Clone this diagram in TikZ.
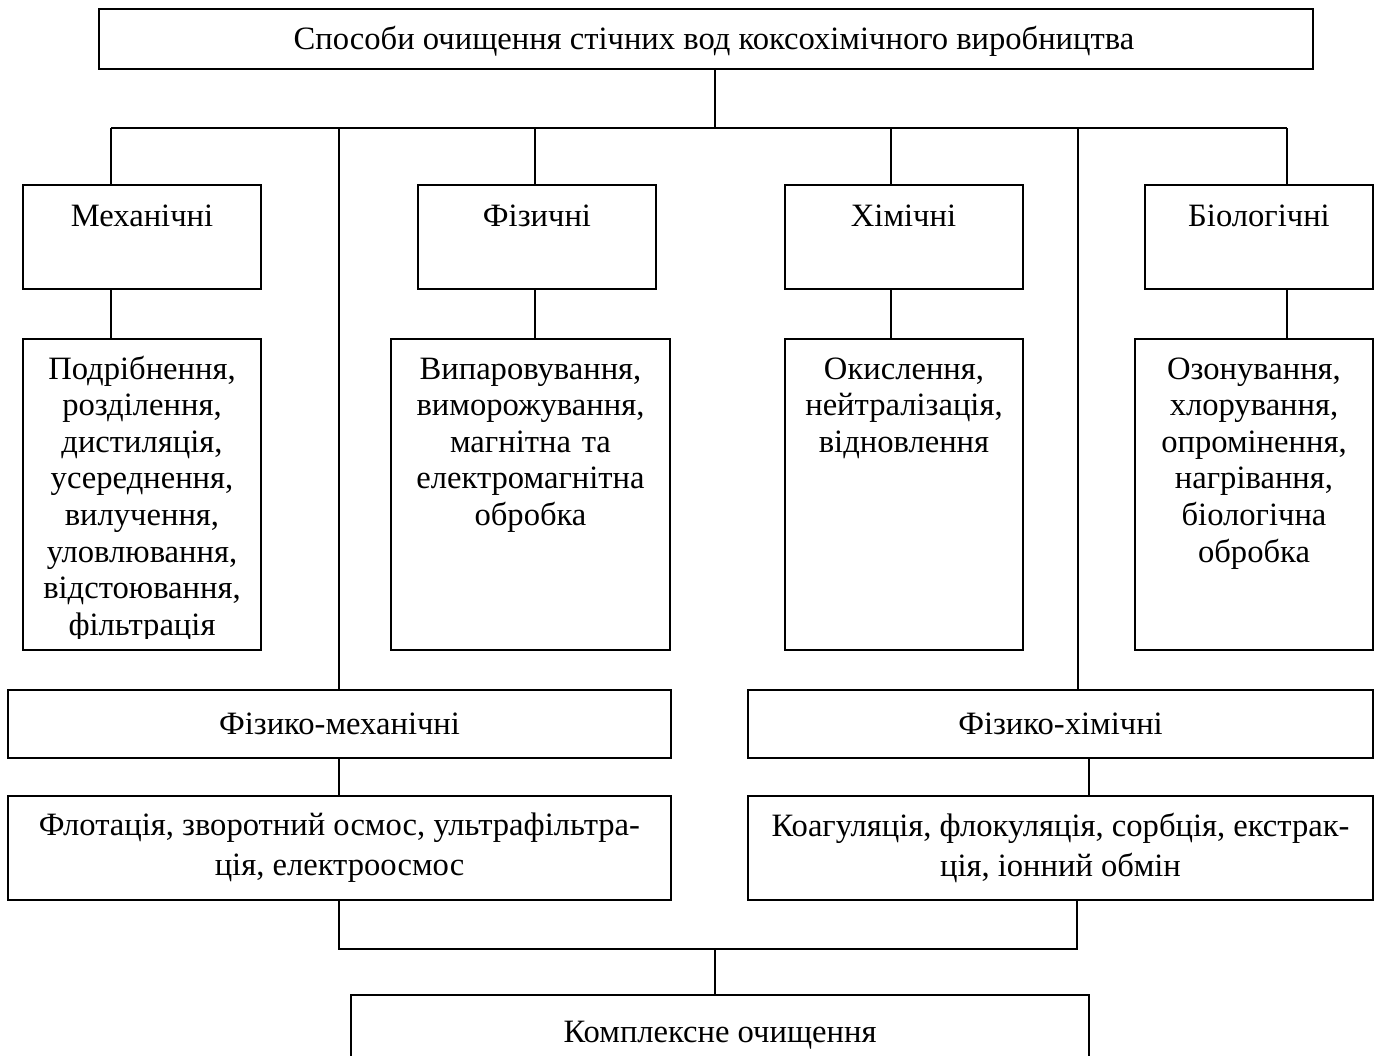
\documentclass[tikz,border=0pt]{standalone}
\usepackage{fontspec}
\setmainfont{Liberation Serif}
\usepackage{tikz}
\usetikzlibrary{positioning,calc}

\begin{document}
\begin{tikzpicture}[x=0.5pt,y=-0.5pt,line width=1pt,
box/.style={draw,line width=1pt,inner sep=0pt},
lbl/.style={inner sep=0pt,font=\fontsize{16.3}{18.3}\selectfont},
list/.style={lbl,align=center,text width=#1,anchor=base},
pair/.style={box,align=center,font=\fontsize{16.3}{20}\selectfont,minimum width=#1,minimum height=52pt}]
\useasboundingbox (0,0) rectangle (1378,1056);
% top
\node[box,minimum width=607pt,minimum height=30pt] (top) at (706,39) {};
\node[lbl,anchor=base] (topT) at (714,49)
  {Способи очищення стічних вод коксохімічного виробництва};
% groups
\node[box,minimum width=119pt,minimum height=52pt] (mech) at (142,237) {};
\node[box,minimum width=119pt,minimum height=52pt] (phys) at (537,237) {};
\node[box,minimum width=119pt,minimum height=52pt] (chem) at (903.5,237) {};
\node[box,minimum width=114pt,minimum height=52pt] (bio) at (1259,237) {};
\node[lbl,anchor=base] (mechT) at ([yshift=-21pt]mech.north) {Механічні};
\node[lbl,anchor=base] (physT) at ([yshift=-21pt]phys.north) {Фізичні};
\node[lbl,anchor=base] (chemT) at ([yshift=-21pt]chem.north) {Хімічні};
\node[lbl,anchor=base] (bioT) at ([yshift=-21pt]bio.north) {Біологічні};
% methods
\node[box,minimum width=119pt,minimum height=155.5pt] (mechc) at (142,494.5) {};
\node[box,minimum width=139.5pt,minimum height=155.5pt] (physc) at (530.5,494.5) {};
\node[box,minimum width=119pt,minimum height=155.5pt] (chemc) at (904,494.5) {};
\node[box,minimum width=119pt,minimum height=155.5pt] (bioc) at (1254,494.5) {};
\begin{scope}
  \clip (mechc.north west) rectangle ([yshift=6.5pt]mechc.south east);
  \node[list=119pt] (mechL) at ([yshift=-20.5pt]mechc.north)
    {Подрібнення,\\розділення,\\дистиляція,\\усереднення,\\вилучення,\\уловлювання,\\відстоювання,\\фільтрація};
\end{scope}
\node[list=139.5pt] (physL) at ([yshift=-20.5pt]physc.north)
  {Випаровування,\\виморожування,\\магнітна та\\електромагнітна\\обробка};
\node[list=119pt] (chemL) at ([yshift=-20.5pt]chemc.north)
  {Окислення,\\нейтралізація,\\відновлення};
\node[list=119pt] (bioL) at ([yshift=-20.5pt]bioc.north)
  {Озонування,\\хлорування,\\опромінення,\\нагрівання,\\біологічна\\обробка};
% combined
\node[box,lbl,minimum width=331.5pt,minimum height=34pt] (pmech) at (339.5,724) {Фізико-механічні};
\node[box,lbl,minimum width=312.5pt,minimum height=34pt] (pchem) at (1060.5,724) {Фізико-хімічні};
\node[pair=331.5pt] (pmechc) at (339.5,848)
  {Флотація, зворотний осмос, ультрафільтра-\\ція, електроосмос};
\node[pair=312.5pt] (pchemc) at (1060.5,848)
  {Коагуляція, флокуляція, сорбція, екстрак-\\ція, іонний обмін};
\node[box,minimum width=369pt,minimum height=45pt] (compl) at (720,1040) {};
\node[lbl,anchor=base] (complT) at ([yshift=-24pt]compl.north) {Комплексне очищення};
% bus points
\coordinate (bL) at (111,128);
\coordinate (b1) at (339,128);
\coordinate (b2) at (535,128);
\coordinate (bM) at (715,128);
\coordinate (b3) at (891,128);
\coordinate (b4) at (1078,128);
\coordinate (bR) at (1287,128);
\coordinate (lL) at (339,949);
\coordinate (lM) at (715,949);
\coordinate (lR) at (1077,949);
% links
\draw (top.south -| bM) -- (bM);
\draw (bL) -- (bR);
\draw (bL) -- (bL |- mech.north);
\draw (b1) -- (b1 |- pmech.north);
\draw (b2) -- (b2 |- phys.north);
\draw (b3) -- (b3 |- chem.north);
\draw (b4) -- (b4 |- pchem.north);
\draw (bR) -- (bR |- bio.north);
\draw (mech.south -| bL) -- (mechc.north -| bL);
\draw (phys.south -| b2) -- (physc.north -| b2);
\draw (chem.south -| b3) -- (chemc.north -| b3);
\draw (bio.south -| bR) -- (bioc.north -| bR);
\draw (pmech.south -| b1) -- (pmechc.north -| b1);
\draw ([xshift=14.25pt]pchem.south) -- ([xshift=14.25pt]pchemc.north);
\draw (pmechc.south -| lL) -- (lL) -- (lR) -- (pchemc.south -| lR);
\draw (lM) -- (compl.north -| lM);
\end{tikzpicture}
\end{document}
